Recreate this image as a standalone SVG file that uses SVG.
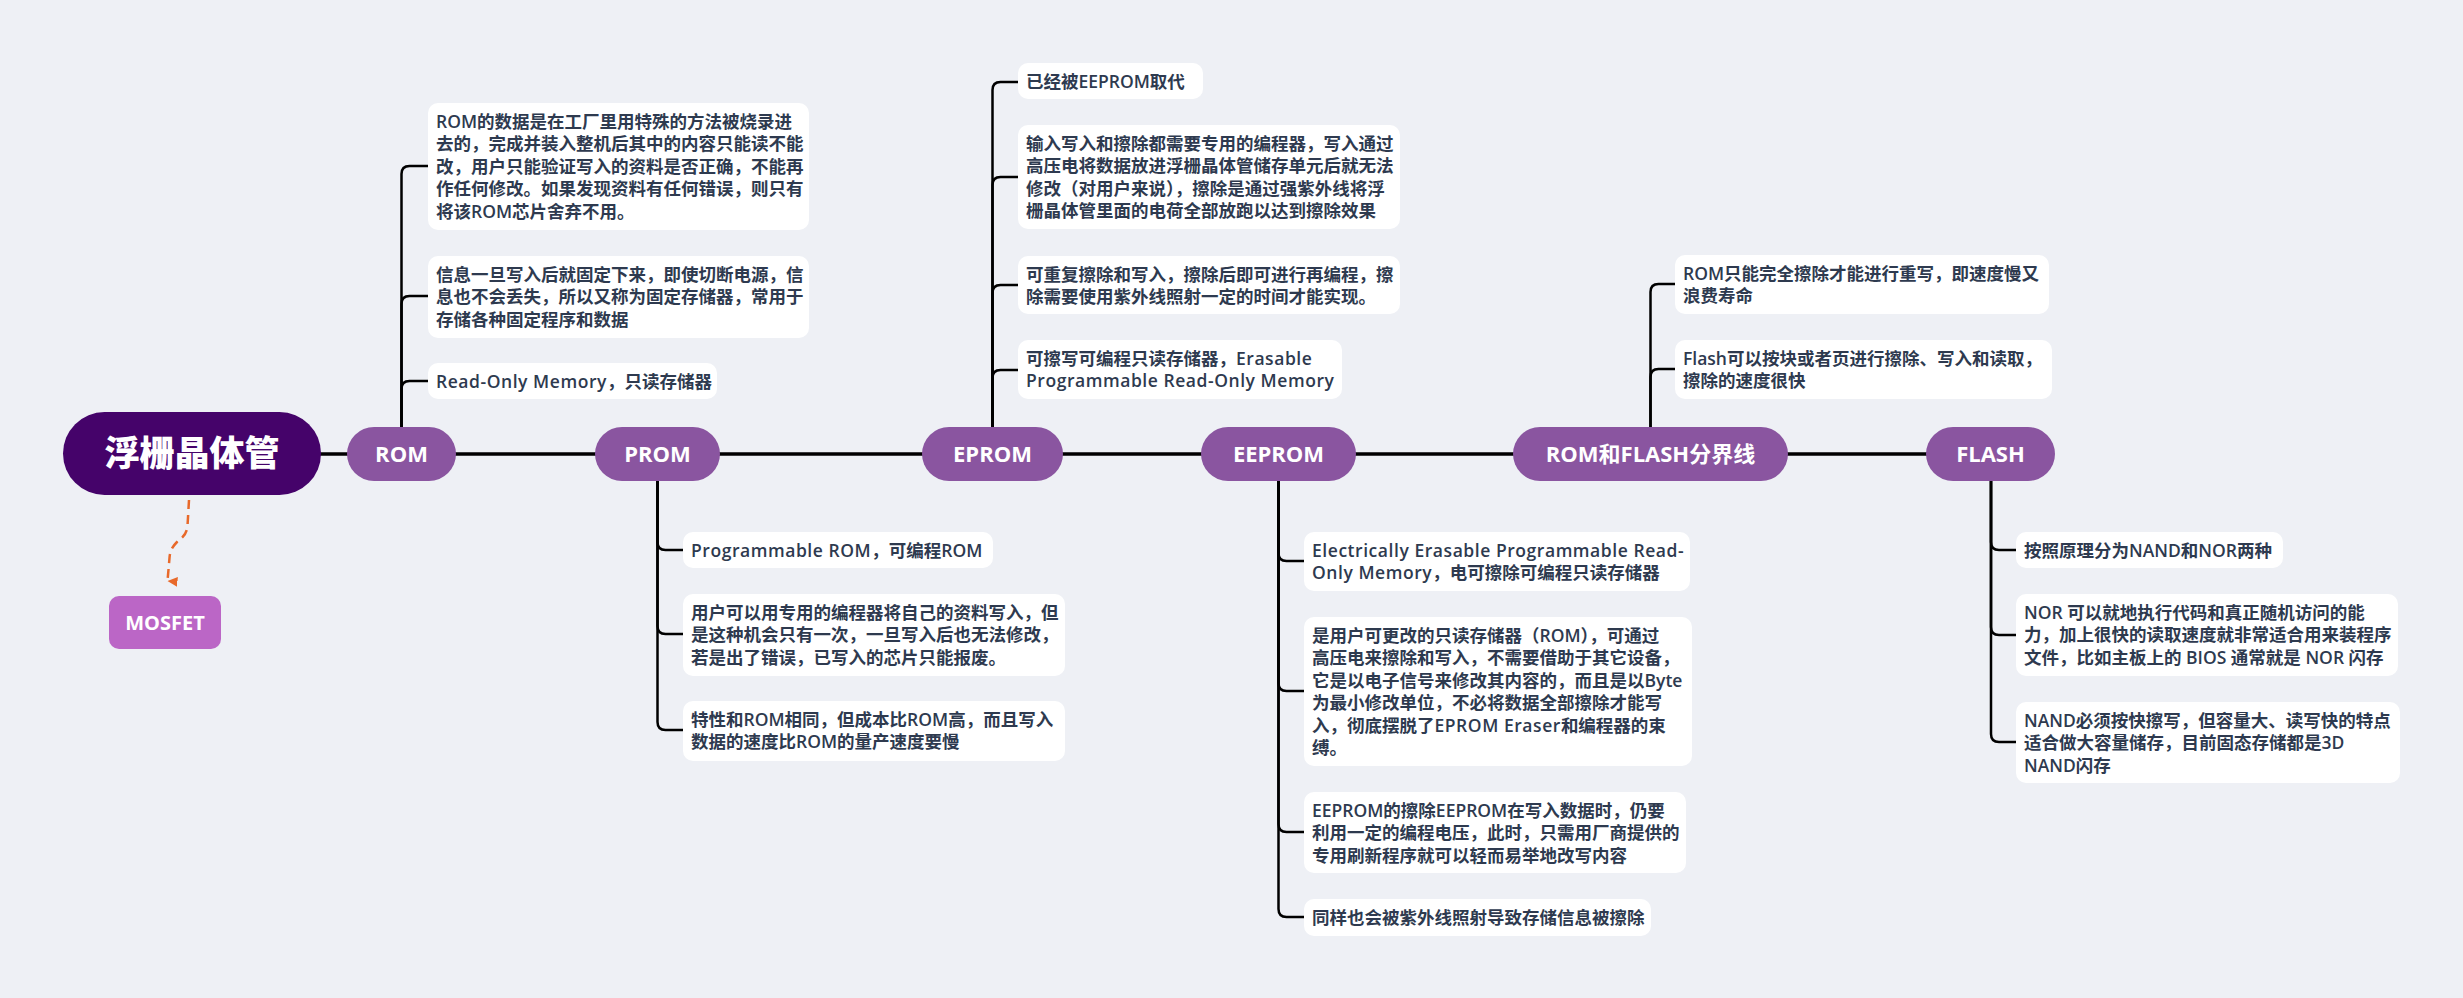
<svg xmlns="http://www.w3.org/2000/svg" width="2463" height="998" viewBox="0 0 2463 998">
<defs>
<style>
.bg{fill:#eef0f5}
.main{fill:#45036a}
.topic{fill:#8a55a0}
.float{fill:#bb66c6}
.box{fill:#ffffff}
.tl{font-family:"Open Sans","Noto Sans CJK SC",sans-serif;font-weight:600;font-size:17.5px;fill:#2e3a4f}
.lat{letter-spacing:0.55px}
.nt{font-family:"Open Sans","Noto Sans CJK SC",sans-serif;font-weight:700;font-size:22px;fill:#ffffff;text-anchor:middle}
.ct{font-family:"Noto Sans CJK SC",sans-serif;font-weight:900;font-size:35px;fill:#ffffff;text-anchor:middle}
.mline{stroke:#000;stroke-width:3.5;fill:none}
.bline{stroke:#000;stroke-width:2.5;fill:none}
.dash{stroke:#e8692a;stroke-width:2.5;fill:none;stroke-dasharray:9 6}
</style>
<marker id="arr" viewBox="0 0 10 10" refX="5" refY="10" markerWidth="10" markerHeight="10" markerUnits="userSpaceOnUse" orient="auto">
<path d="M0,0 L10,0 L5,10 Z" fill="#e8692a"/>
</marker>
</defs>
<rect class="bg" x="0" y="0" width="2463" height="998"/>

<g id="connectors">
<line class="mline" x1="300" y1="454" x2="1940" y2="454"/>
<path class="bline" d="M401.5,427 L401.5,174 Q401.5,166 409.5,166 L428,166"/>
<path class="bline" d="M401.5,427 L401.5,304 Q401.5,296 409.5,296 L428,296"/>
<path class="bline" d="M401.5,427 L401.5,389 Q401.5,381 409.5,381 L428,381"/>
<path class="bline" d="M657.5,481 L657.5,542 Q657.5,550 665.5,550 L683,550"/>
<path class="bline" d="M657.5,481 L657.5,626 Q657.5,634 665.5,634 L683,634"/>
<path class="bline" d="M657.5,481 L657.5,722 Q657.5,730 665.5,730 L683,730"/>
<path class="bline" d="M992.5,427 L992.5,90 Q992.5,82 1000.5,82 L1018,82"/>
<path class="bline" d="M992.5,427 L992.5,185 Q992.5,177 1000.5,177 L1018,177"/>
<path class="bline" d="M992.5,427 L992.5,293 Q992.5,285 1000.5,285 L1018,285"/>
<path class="bline" d="M992.5,427 L992.5,378 Q992.5,370 1000.5,370 L1018,370"/>
<path class="bline" d="M1278.5,481 L1278.5,553 Q1278.5,561 1286.5,561 L1304,561"/>
<path class="bline" d="M1278.5,481 L1278.5,683 Q1278.5,691 1286.5,691 L1304,691"/>
<path class="bline" d="M1278.5,481 L1278.5,824 Q1278.5,832 1286.5,832 L1304,832"/>
<path class="bline" d="M1278.5,481 L1278.5,909 Q1278.5,917 1286.5,917 L1304,917"/>
<path class="bline" d="M1650.5,427 L1650.5,292 Q1650.5,284 1658.5,284 L1675,284"/>
<path class="bline" d="M1650.5,427 L1650.5,377 Q1650.5,369 1658.5,369 L1675,369"/>
<path class="bline" d="M1991,481 L1991,542 Q1991,550 1999,550 L2016,550"/>
<path class="bline" d="M1991,481 L1991,627 Q1991,635 1999,635 L2016,635"/>
<path class="bline" d="M1991,481 L1991,734 Q1991,742 1999,742 L2016,742"/>
<path class="dash" d="M189,500 L187.5,526 C186.5,536 181,538 177,542 C172,547 170,551 169.5,558 L167.5,581" marker-end="url(#arr)"/>
</g>

<g id="central">
<rect class="main" x="63" y="412" width="258" height="83" rx="41.5"/>
<text class="ct" x="192" y="466">浮栅晶体管</text>
</g>
<g id="mosfet">
<rect class="float" x="109" y="596" width="112" height="53" rx="10"/>
<text class="nt" x="165" y="630" style="font-size:20px">MOSFET</text>
</g>

<g id="rom">
<rect class="topic" x="347" y="427" width="109" height="54" rx="27"/>
<text class="nt" x="401.5" y="462">ROM</text>
</g>
<g id="prom">
<rect class="topic" x="595" y="427" width="125" height="54" rx="27"/>
<text class="nt" x="657.5" y="462">PROM</text>
</g>
<g id="eprom">
<rect class="topic" x="922" y="427" width="141" height="54" rx="27"/>
<text class="nt" x="992.5" y="462">EPROM</text>
</g>
<g id="eeprom">
<rect class="topic" x="1201" y="427" width="155" height="54" rx="27"/>
<text class="nt" x="1278.5" y="462">EEPROM</text>
</g>
<g id="romflash">
<rect class="topic" x="1513" y="427" width="275" height="54" rx="27"/>
<text class="nt" x="1650.5" y="462">ROM和FLASH分界线</text>
</g>
<g id="flash">
<rect class="topic" x="1926" y="427" width="129" height="54" rx="27"/>
<text class="nt" x="1990.5" y="462">FLASH</text>
</g>

<g id="rom-1">
<rect class="box" x="428" y="103" width="381" height="127" rx="10"/>
<text class="tl"><tspan x="436" y="127.5">ROM的数据是在工厂里用特殊的方法被烧录进</tspan><tspan x="436" y="150">去的，完成并装入整机后其中的内容只能读不能</tspan><tspan x="436" y="172.5">改，用户只能验证写入的资料是否正确，不能再</tspan><tspan x="436" y="195">作任何修改。如果发现资料有任何错误，则只有</tspan><tspan x="436" y="217.5">将该ROM芯片舍弃不用。</tspan></text>
</g>
<g id="rom-2">
<rect class="box" x="428" y="256" width="381" height="82" rx="10"/>
<text class="tl"><tspan x="436" y="280.5">信息一旦写入后就固定下来，即使切断电源，信</tspan><tspan x="436" y="303">息也不会丢失，所以又称为固定存储器，常用于</tspan><tspan x="436" y="325.5">存储各种固定程序和数据</tspan></text>
</g>
<g id="rom-3">
<rect class="box" x="428" y="363" width="289" height="36" rx="10"/>
<text class="tl" x="436" y="387.5"><tspan class="lat">Read-Only Memory</tspan>，只读存储器</text>
</g>

<g id="prom-1">
<rect class="box" x="683" y="532" width="310" height="36" rx="10"/>
<text class="tl" x="691" y="556.5"><tspan class="lat">Programmable ROM</tspan>，可编程ROM</text>
</g>
<g id="prom-2">
<rect class="box" x="683" y="594" width="382" height="82" rx="10"/>
<text class="tl"><tspan x="691" y="618.5">用户可以用专用的编程器将自己的资料写入，但</tspan><tspan x="691" y="641">是这种机会只有一次，一旦写入后也无法修改，</tspan><tspan x="691" y="663.5">若是出了错误，已写入的芯片只能报废。</tspan></text>
</g>
<g id="prom-3">
<rect class="box" x="683" y="701" width="382" height="60" rx="10"/>
<text class="tl"><tspan x="691" y="725.5">特性和ROM相同，但成本比ROM高，而且写入</tspan><tspan x="691" y="748">数据的速度比ROM的量产速度要慢</tspan></text>
</g>

<g id="eprom-1">
<rect class="box" x="1018" y="63" width="185" height="36" rx="10"/>
<text class="tl" x="1026" y="87.5">已经被EEPROM取代</text>
</g>
<g id="eprom-2">
<rect class="box" x="1018" y="125" width="382" height="104" rx="10"/>
<text class="tl"><tspan x="1026" y="149.5">输入写入和擦除都需要专用的编程器，写入通过</tspan><tspan x="1026" y="172">高压电将数据放进浮栅晶体管储存单元后就无法</tspan><tspan x="1026" y="194.5">修改（对用户来说），擦除是通过强紫外线将浮</tspan><tspan x="1026" y="217">栅晶体管里面的电荷全部放跑以达到擦除效果</tspan></text>
</g>
<g id="eprom-3">
<rect class="box" x="1018" y="256" width="382" height="58" rx="10"/>
<text class="tl"><tspan x="1026" y="280.5">可重复擦除和写入，擦除后即可进行再编程，擦</tspan><tspan x="1026" y="303">除需要使用紫外线照射一定的时间才能实现。</tspan></text>
</g>
<g id="eprom-4">
<rect class="box" x="1018" y="340" width="324" height="59" rx="10"/>
<text class="tl"><tspan x="1026" y="364.5">可擦写可编程只读存储器，<tspan class="lat">Erasable</tspan></tspan><tspan class="lat" x="1026" y="387">Programmable Read-Only Memory</tspan></text>
</g>

<g id="eeprom-1">
<rect class="box" x="1304" y="532" width="386" height="59" rx="10"/>
<text class="tl"><tspan class="lat" x="1312" y="556.5">Electrically Erasable Programmable Read-</tspan><tspan x="1312" y="579"><tspan class="lat">Only Memory</tspan>，电可擦除可编程只读存储器</tspan></text>
</g>
<g id="eeprom-2">
<rect class="box" x="1304" y="617" width="388" height="149" rx="10"/>
<text class="tl"><tspan x="1312" y="641.5">是用户可更改的只读存储器（ROM），可通过</tspan><tspan x="1312" y="664">高压电来擦除和写入，不需要借助于其它设备，</tspan><tspan x="1312" y="686.5">它是以电子信号来修改其内容的，而且是以Byte</tspan><tspan x="1312" y="709">为最小修改单位，不必将数据全部擦除才能写</tspan><tspan x="1312" y="731.5">入，彻底摆脱了<tspan class="lat">EPROM Eraser</tspan>和编程器的束</tspan><tspan x="1312" y="754">缚。</tspan></text>
</g>
<g id="eeprom-3">
<rect class="box" x="1304" y="792" width="382" height="81" rx="10"/>
<text class="tl"><tspan x="1312" y="816.5">EEPROM的擦除EEPROM在写入数据时，仍要</tspan><tspan x="1312" y="839">利用一定的编程电压，此时，只需用厂商提供的</tspan><tspan x="1312" y="861.5">专用刷新程序就可以轻而易举地改写内容</tspan></text>
</g>
<g id="eeprom-4">
<rect class="box" x="1304" y="899" width="347" height="37" rx="10"/>
<text class="tl" x="1312" y="923.5">同样也会被紫外线照射导致存储信息被擦除</text>
</g>

<g id="romflash-1">
<rect class="box" x="1675" y="255" width="374" height="59" rx="10"/>
<text class="tl"><tspan x="1683" y="279.5">ROM只能完全擦除才能进行重写，即速度慢又</tspan><tspan x="1683" y="302">浪费寿命</tspan></text>
</g>
<g id="romflash-2">
<rect class="box" x="1675" y="340" width="377" height="59" rx="10"/>
<text class="tl"><tspan x="1683" y="364.5">Flash可以按块或者页进行擦除、写入和读取，</tspan><tspan x="1683" y="387">擦除的速度很快</tspan></text>
</g>

<g id="flash-1">
<rect class="box" x="2016" y="532" width="267" height="36" rx="10"/>
<text class="tl" x="2024" y="556.5">按照原理分为NAND和NOR两种</text>
</g>
<g id="flash-2">
<rect class="box" x="2016" y="594" width="382" height="82" rx="10"/>
<text class="tl"><tspan x="2024" y="618.5">NOR 可以就地执行代码和真正随机访问的能</tspan><tspan x="2024" y="641">力，加上很快的读取速度就非常适合用来装程序</tspan><tspan x="2024" y="663.5">文件，比如主板上的 BIOS 通常就是 NOR 闪存</tspan></text>
</g>
<g id="flash-3">
<rect class="box" x="2016" y="702" width="384" height="81" rx="10"/>
<text class="tl"><tspan x="2024" y="726.5">NAND必须按快擦写，但容量大、读写快的特点</tspan><tspan x="2024" y="749">适合做大容量储存，目前固态存储都是3D</tspan><tspan x="2024" y="771.5">NAND闪存</tspan></text>
</g>
</svg>
